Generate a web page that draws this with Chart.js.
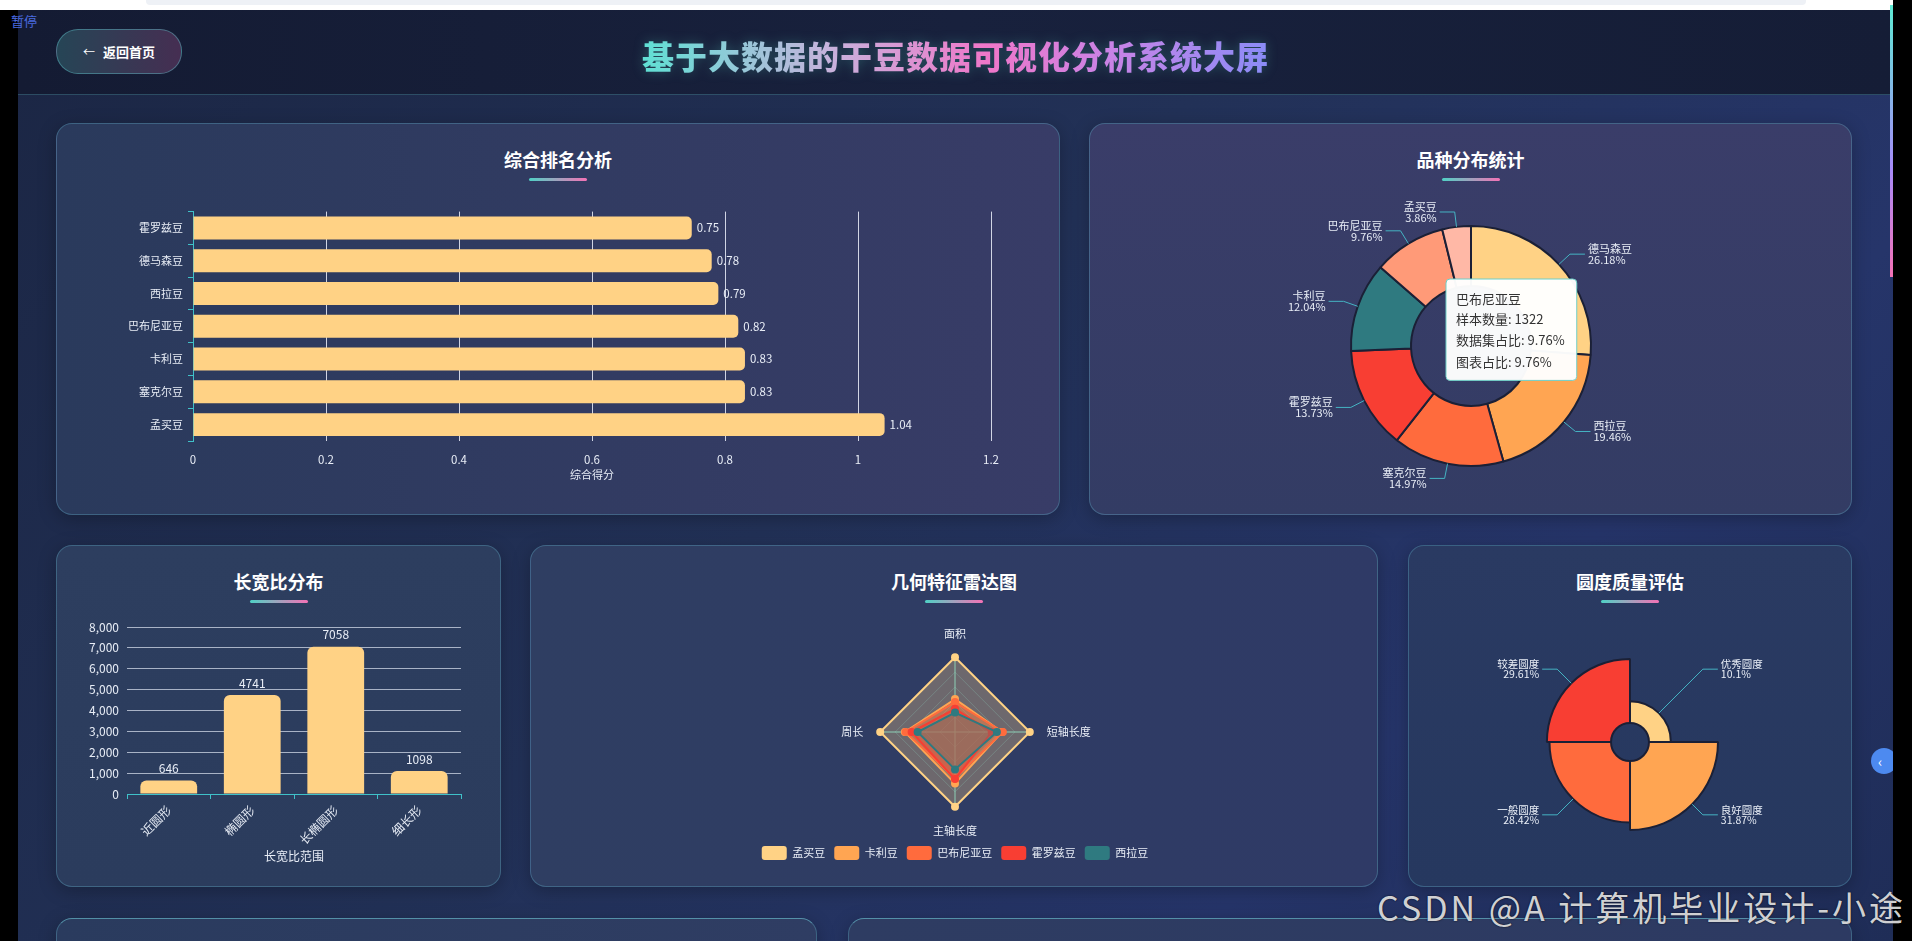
<!DOCTYPE html>
<html lang="zh-CN">
<head>
<meta charset="UTF-8">
<title>基于大数据的干豆数据可视化分析系统大屏</title>
<script src="https://cdn.jsdelivr.net/npm/chart.js@4.4.1/dist/chart.umd.min.js"></script>
<style>
    body {
        margin: 0;
        width: 1912px;
        height: 941px;
        overflow: hidden;
        background: #000;
        position: relative;
        font-family: 'Noto Sans CJK SC', 'Noto Sans', sans-serif;
    }
    .abs { position: absolute; }
    #topStrip { left: 0; top: 0; width: 1893px; height: 10px; background: #fff; }
    #topStrip::after { content: ''; position: absolute; left: 146px; top: 0; width: 1660px; height: 5px; background: #eef1f6; border-radius: 0 0 4px 4px; }
    #page {
        left: 18px; top: 10px; width: 1875px; height: 931px;
        background: linear-gradient(135deg, #1b2644 0%, #223157 45%, #26356a 75%, #1f2d57 100%);
    }
    #header {
        left: 18px; top: 10px; width: 1875px; height: 84px;
        background: linear-gradient(90deg, #141b33 0%, #18213d 50%, #151d36 100%);
        border-bottom: 1px solid rgba(90, 170, 190, 0.35);
    }
    #pause { left: 11px; top: 11px; color: #4a6be0; font-size: 13px; z-index: 5; }
    #backBtn {
        left: 56px; top: 29px; width: 124px; height: 43px;
        border: 1px solid rgba(96, 190, 200, 0.45);
        border-radius: 22px;
        background: linear-gradient(90deg, rgba(44, 84, 98, 0.75), rgba(86, 52, 92, 0.75));
        color: #fff; font-size: 13px; font-weight: bold;
        display: flex; align-items: center; justify-content: center;
    }
    #backBtn span { margin-right: 8px; font-weight: normal; font-size: 12px; }
    #mainTitle {
        left: 18px; width: 1875px; top: 33px; text-align: center;
        font-size: 32px; font-weight: bold; letter-spacing: 1px; line-height: 44px;
    }
    #mainTitle b {
        background: linear-gradient(90deg, #5fe0d4 0%, #c7b2dc 30%, #ef77c9 55%, #c883e6 75%, #8a8cf7 100%);
        -webkit-background-clip: text; background-clip: text; color: transparent;
        filter: drop-shadow(0 0 6px rgba(94, 234, 212, 0.25));
    }
    .panel {
        position: absolute;
        border: 1px solid rgba(96, 176, 200, 0.35);
        border-radius: 16px;
        box-shadow: 0 4px 18px rgba(0, 0, 0, 0.25);
        box-sizing: border-box;
    }
    .ptitle {
        position: absolute; left: 0; right: 0; top: 24px; text-align: center;
        color: #fff; font-size: 18px; font-weight: bold; line-height: 22px;
    }
    .pline {
        position: absolute; left: 50%; margin-left: -29px; top: 54px;
        width: 58px; height: 3px; border-radius: 2px;
        background: linear-gradient(90deg, #4fd1c5, #f472b6);
    }
    #p1 { left: 56px; top: 123px; width: 1004px; height: 392px; background: linear-gradient(90deg, #2a3a5c, #383c67); }
    #p2 { left: 1089px; top: 123px; width: 763px; height: 392px; background: linear-gradient(180deg, #3a3d69, #333c64); }
    #p3 { left: 56px; top: 545px; width: 445px; height: 342px; background: linear-gradient(180deg, #2d3e5f, #2b3c5d); }
    #p4 { left: 530px; top: 545px; width: 848px; height: 342px; background: linear-gradient(90deg, #2f3e62, #2f3a66); }
    #p5 { left: 1408px; top: 545px; width: 444px; height: 342px; background: linear-gradient(180deg, #2a3a62, #26385f); }
    #p6 { left: 56px; top: 918px; width: 761px; height: 100px; background: linear-gradient(90deg, #2a3b5e, #2f3d63); border-top-color: rgba(110, 200, 215, 0.6); }
    #p7 { left: 848px; top: 918px; width: 1004px; height: 100px; background: linear-gradient(90deg, #2e3c62, #2d3a62); border-top-color: rgba(110, 200, 215, 0.6); }
    canvas { position: absolute; }
    #rightStrip { left: 1893px; top: 0; width: 19px; height: 941px; background: #000; z-index: 4; }
    #scrollThumb { left: 1890px; top: 5px; width: 3px; height: 272px; background: linear-gradient(180deg, #5eead4, #a78bfa 60%, #f472b6); z-index: 5; }
    #sideBtn {
        left: 1871px; top: 748px; width: 26px; height: 26px; border-radius: 50%;
        background: #4d8af0; color: #fff; font-size: 14px; line-height: 26px; text-indent: 7px; z-index: 3;
    }
    #watermark {
        right: 6px; top: 886px; color: rgba(236, 236, 236, 0.9);
        font-size: 34px; letter-spacing: 3px; line-height: 42px; z-index: 6;
        text-shadow: 0 0 2px rgba(0, 0, 0, 0.8);
    }
</style>
</head>
<body>
<div id="page" class="abs"></div>
<div id="topStrip" class="abs"></div>
<div id="header" class="abs"></div>
<div id="pause" class="abs">暂停</div>
<div id="backBtn" class="abs"><span>←</span>返回首页</div>
<div id="mainTitle" class="abs"><b>基于大数据的干豆数据可视化分析系统大屏</b></div>

<div id="p1" class="panel"><div class="ptitle">综合排名分析</div><div class="pline"></div></div>
<div id="p2" class="panel"><div class="ptitle">品种分布统计</div><div class="pline"></div></div>
<div id="p3" class="panel"><div class="ptitle">长宽比分布</div><div class="pline"></div></div>
<div id="p4" class="panel"><div class="ptitle">几何特征雷达图</div><div class="pline"></div></div>
<div id="p5" class="panel"><div class="ptitle">圆度质量评估</div><div class="pline"></div></div>
<div id="p6" class="panel"></div>
<div id="p7" class="panel"></div>

<canvas id="rankChart" width="930" height="290" style="left:100px; top:200px;"></canvas>
<canvas id="varietyChart" width="742" height="302" style="left:1100px; top:195px;"></canvas>
<canvas id="ratioChart" width="425" height="275" style="left:62px; top:605px;"></canvas>
<canvas id="radarChart" width="790" height="258" style="left:560px; top:612px;"></canvas>
<canvas id="roundChart" width="400" height="264" style="left:1430px; top:610px;"></canvas>

<div id="sideBtn" class="abs">&lsaquo;</div>
<div id="rightStrip" class="abs"></div>
<div id="scrollThumb" class="abs"></div>
<div id="watermark" class="abs">CSDN @A 计算机毕业设计-小途</div>

<script>
// 综合排名 (top to bottom)
const rankNames = ['霍罗兹豆', '德马森豆', '西拉豆', '巴布尼亚豆', '卡利豆', '塞克尔豆', '孟买豆'];
const rankScores = [0.75, 0.78, 0.79, 0.82, 0.83, 0.83, 1.04];
const rankTicks = [0, 0.2, 0.4, 0.6, 0.8, 1, 1.2];

// 品种分布
const varietyNames = ['德马森豆', '西拉豆', '塞克尔豆', '霍罗兹豆', '卡利豆', '巴布尼亚豆', '孟买豆'];
const varietyCounts = [3546, 2636, 2027, 1860, 1630, 1322, 522];
const varietyPercents = ['26.18', '19.46', '14.97', '13.73', '12.04', '9.76', '3.86'];

// 长宽比分布
const ratioLabels = ['近圆形', '椭圆形', '长椭圆形', '细长形'];
const ratioCounts = [646, 4741, 7058, 1098];

// 几何特征雷达 (归一化)
const radarAxes = ['面积', '短轴长度', '主轴长度', '周长'];
const radarNames = ['孟买豆', '卡利豆', '巴布尼亚豆', '霍罗兹豆', '西拉豆'];
const radarBombay = [1, 1, 1, 1];
const radarCali = [0.44, 0.63, 0.69, 0.67];
const radarBarbunya = [0.40, 0.64, 0.62, 0.66];
const radarHoroz = [0.31, 0.49, 0.63, 0.58];
const radarSira = [0.26, 0.56, 0.50, 0.50];

// 圆度质量
const roundLabels = ['优秀圆度', '良好圆度', '一般圆度', '较差圆度'];
const roundPercents = [10.1, 31.87, 28.42, 29.61];

const palette = ['#FFD285', '#FFA552', '#FF6B3D', '#F83E33', '#2F7A80', '#FF9A78', '#FFB8A6'];
const textColor = '#e8edf6';
const teal = '#3fc1c9';
const darkEdge = '#1b2036';

Chart.defaults.font.family = "'Noto Sans CJK SC', 'Noto Sans', sans-serif";
Chart.defaults.color = textColor;

// value labels at the end of bars
const barValues = {
    id: 'barValues',
    afterDatasetsDraw(chart, args, opts) {
        const ctx = chart.ctx;
        const meta = chart.getDatasetMeta(0);
        const values = chart.data.datasets[0].data;
        ctx.save();
        ctx.fillStyle = textColor;
        ctx.font = `${opts.size || 11}px ${Chart.defaults.font.family}`;
        meta.data.forEach((bar, i) => {
            if (chart.options.indexAxis === 'y') {
                ctx.textAlign = 'left';
                ctx.textBaseline = 'middle';
                ctx.fillText(values[i].toFixed(2), bar.x + 5, bar.y);
            } else {
                ctx.textAlign = 'center';
                ctx.textBaseline = 'bottom';
                ctx.fillText(values[i], bar.x, bar.y - 6);
            }
        });
        ctx.restore();
    }
};

// pie style labels with leader lines
const outsideLabels = {
    id: 'outsideLabels',
    afterDatasetsDraw(chart, args, opts) {
        const ctx = chart.ctx;
        const meta = chart.getDatasetMeta(0);
        const maxR = Math.max(...meta.data.map(a => a.outerRadius));
        ctx.save();
        ctx.font = `${opts.size}px ${Chart.defaults.font.family}`;
        ctx.textBaseline = 'middle';
        meta.data.forEach((arc, i) => {
            const mid = (arc.startAngle + arc.endAngle) / 2;
            const cos = Math.cos(mid), sin = Math.sin(mid);
            const x0 = arc.x + cos * arc.outerRadius, y0 = arc.y + sin * arc.outerRadius;
            const x1 = arc.x + cos * (maxR + opts.len1), y1 = arc.y + sin * (maxR + opts.len1);
            const dir = cos >= 0 ? 1 : -1;
            const x2 = x1 + dir * opts.len2;
            ctx.strokeStyle = opts.lineColor;
            ctx.lineWidth = 1;
            ctx.beginPath();
            ctx.moveTo(x0, y0);
            ctx.lineTo(x1, y1);
            ctx.lineTo(x2, y1);
            ctx.stroke();
            ctx.fillStyle = textColor;
            ctx.textAlign = dir > 0 ? 'left' : 'right';
            const tx = x2 + dir * 3;
            ctx.fillText(chart.data.labels[i], tx, y1 - opts.gap);
            ctx.fillText(opts.texts[i] + '%', tx, y1 + opts.gap);
        });
        ctx.restore();
    }
};

// hollow centre for the rose chart
const roseHole = {
    id: 'roseHole',
    afterDatasetsDraw(chart) {
        const scale = chart.scales.r;
        const r = scale.getDistanceFromCenterForValue(0);
        const ctx = chart.ctx;
        ctx.save();
        ctx.globalCompositeOperation = 'destination-out';
        ctx.beginPath();
        ctx.arc(scale.xCenter, scale.yCenter, r, 0, Math.PI * 2);
        ctx.fill();
        ctx.globalCompositeOperation = 'source-over';
        ctx.strokeStyle = darkEdge;
        ctx.lineWidth = 2;
        ctx.stroke();
        ctx.restore();
    }
};

Chart.Tooltip.positioners.ringInside = function(items) {
    if (!items.length) return false;
    const el = items[0].element;
    return { x: el.x - 21, y: el.y - 67 };
};

function initializeRankChart() {
    new Chart(document.getElementById('rankChart'), {
        type: 'bar',
        data: {
            labels: rankNames,
            datasets: [{
                data: rankScores,
                backgroundColor: '#FFD285',
                borderRadius: 5,
                borderSkipped: 'start',
                barPercentage: 0.7,
                categoryPercentage: 1
            }]
        },
        options: {
            indexAxis: 'y',
            responsive: false,
            animation: false,
            events: [],
            layout: { padding: { top: 10, right: 39 } },
            plugins: {
                legend: { display: false },
                tooltip: { enabled: false },
                barValues: { size: 11.5 }
            },
            scales: {
                x: {
                    min: rankTicks[0],
                    max: rankTicks[rankTicks.length - 1],
                    afterBuildTicks: scale => { scale.ticks = rankTicks.map(v => ({ value: v })); },
                    ticks: { color: textColor, font: { size: 11.5 }, padding: 12, callback: v => String(+v.toFixed(1)) },
                    grid: { color: 'rgba(236,240,250,0.85)', drawTicks: false },
                    border: { display: false },
                    title: { display: true, text: '综合得分', color: textColor, font: { size: 11 }, padding: { top: 0, bottom: 9 } },
                    afterFit: scale => { scale.height = 49; }
                },
                y: {
                    ticks: { color: textColor, font: { size: 11 }, padding: 5 },
                    grid: { drawOnChartArea: false, color: teal, tickLength: 5 },
                    border: { color: teal },
                    afterFit: scale => { scale.width = 93; }
                }
            }
        },
        plugins: [barValues]
    });
}

function initializeVarietyChart() {
    const chart = new Chart(document.getElementById('varietyChart'), {
        type: 'doughnut',
        data: {
            labels: varietyNames,
            datasets: [{
                data: varietyCounts,
                backgroundColor: palette,
                borderColor: darkEdge,
                borderWidth: 2,
                hoverOffset: 0
            }]
        },
        options: {
            responsive: false,
            animation: false,
            events: [],
            cutout: '50%',
            layout: { padding: { left: 250, right: 250, top: 30, bottom: 30 } },
            plugins: {
                legend: { display: false },
                outsideLabels: { texts: varietyPercents, size: 11, gap: 5.5, len1: 15, len2: 15, lineColor: '#45b4c3' },
                tooltip: {
                    position: 'ringInside',
                    xAlign: 'left',
                    yAlign: 'top',
                    caretSize: 0,
                    caretPadding: 0,
                    backgroundColor: 'rgba(255,255,255,0.97)',
                    borderColor: '#6fcfc8',
                    borderWidth: 1,
                    cornerRadius: 4,
                    titleColor: '#333',
                    bodyColor: '#333',
                    titleFont: { size: 13, weight: 'normal' },
                    bodyFont: { size: 13 },
                    padding: { top: 12, bottom: 11, left: 10, right: 12 },
                    titleMarginBottom: 5,
                    bodySpacing: 5.5,
                    displayColors: false,
                    callbacks: {
                        title: items => varietyNames[items[0].dataIndex],
                        label: item => [
                            '样本数量: ' + varietyCounts[item.dataIndex],
                            '数据集占比: ' + varietyPercents[item.dataIndex] + '%',
                            '图表占比: ' + varietyPercents[item.dataIndex] + '%'
                        ]
                    }
                }
            }
        },
        plugins: [outsideLabels]
    });
    // the reference shows the tooltip of 巴布尼亚豆
    chart.tooltip.setActiveElements([{ datasetIndex: 0, index: varietyNames.indexOf('巴布尼亚豆') }], { x: 0, y: 0 });
    chart.update();
}

function initializeRatioChart() {
    new Chart(document.getElementById('ratioChart'), {
        type: 'bar',
        data: {
            labels: ratioLabels,
            datasets: [{
                data: ratioCounts,
                backgroundColor: '#FFD285',
                borderRadius: { topLeft: 6, topRight: 6 },
                borderSkipped: 'bottom',
                barPercentage: 0.68,
                categoryPercentage: 1
            }]
        },
        options: {
            responsive: false,
            animation: false,
            events: [],
            layout: { padding: { top: 22, right: 26 } },
            plugins: {
                legend: { display: false },
                tooltip: { enabled: false },
                barValues: { size: 12 }
            },
            scales: {
                y: {
                    min: 0,
                    max: 8000,
                    ticks: { stepSize: 1000, color: textColor, font: { size: 12 }, padding: 8 },
                    grid: { color: 'rgba(222,230,242,0.7)', drawTicks: false },
                    border: { display: false },
                    afterFit: scale => { scale.width = 65; }
                },
                x: {
                    ticks: { color: textColor, font: { size: 12 }, maxRotation: 45, minRotation: 45, padding: 4 },
                    grid: { drawOnChartArea: false, color: teal, tickLength: 5 },
                    border: { color: teal },
                    title: { display: true, text: '长宽比范围', color: textColor, font: { size: 12 }, padding: { top: 0, bottom: 16 } },
                    afterFit: scale => { scale.height = 86; }
                }
            }
        },
        plugins: [barValues]
    });
}

function initializeRadarChart() {
    const series = [radarBombay, radarCali, radarBarbunya, radarHoroz, radarSira];
    new Chart(document.getElementById('radarChart'), {
        type: 'radar',
        data: {
            labels: radarAxes,
            datasets: series.map((values, i) => ({
                label: radarNames[i],
                data: values,
                borderColor: palette[i],
                backgroundColor: palette[i] + '4D',
                borderWidth: 2,
                pointRadius: 4,
                pointBackgroundColor: palette[i],
                pointBorderWidth: 0,
                fill: true,
                // later series are painted on top, like the reference
                order: series.length - i
            }))
        },
        options: {
            responsive: false,
            animation: false,
            events: [],
            layout: { padding: { top: 15 } },
            plugins: {
                tooltip: { enabled: false },
                legend: {
                    position: 'bottom',
                    labels: {
                        color: textColor,
                        font: { size: 11 },
                        boxWidth: 25,
                        boxHeight: 14,
                        useBorderRadius: true,
                        borderRadius: 3,
                        padding: 9,
                        sort: (a, b) => a.datasetIndex - b.datasetIndex,
                        generateLabels: chart => Chart.defaults.plugins.legend.labels.generateLabels(chart)
                            .map(item => ({ ...item, fillStyle: item.strokeStyle, lineWidth: 0 }))
                    }
                }
            },
            scales: {
                r: {
                    min: 0,
                    max: 1,
                    ticks: { display: false, stepSize: 0.2 },
                    grid: { color: 'rgba(94,200,210,0.28)' },
                    angleLines: { color: 'rgba(100,232,220,0.85)' },
                    pointLabels: { color: textColor, font: { size: 11 }, padding: 17 }
                }
            }
        }
    });
}

function initializeRoundChart() {
    const maxVal = Math.max(...roundPercents);
    new Chart(document.getElementById('roundChart'), {
        type: 'polarArea',
        data: {
            labels: roundLabels,
            datasets: [{
                data: roundPercents,
                backgroundColor: palette.slice(0, 4),
                borderColor: darkEdge,
                borderWidth: 2
            }]
        },
        options: {
            responsive: false,
            animation: false,
            events: [],
            layout: { padding: { left: 112, right: 112, top: 44, bottom: 44 } },
            plugins: {
                legend: { display: false },
                tooltip: { enabled: false },
                outsideLabels: { texts: roundPercents, size: 10.5, gap: 5, len1: 15, len2: 15, lineColor: '#45b4c3' }
            },
            scales: {
                r: {
                    // inner radius of the rose equals value 0
                    min: -maxVal * 0.275,
                    max: maxVal,
                    ticks: { display: false },
                    grid: { display: false },
                    angleLines: { display: false },
                    pointLabels: { display: false }
                }
            }
        },
        plugins: [roseHole, outsideLabels]
    });
}

document.addEventListener('DOMContentLoaded', () => {
    initializeRankChart();
    initializeVarietyChart();
    initializeRatioChart();
    initializeRadarChart();
    initializeRoundChart();
});
</script>
</body>
</html>
